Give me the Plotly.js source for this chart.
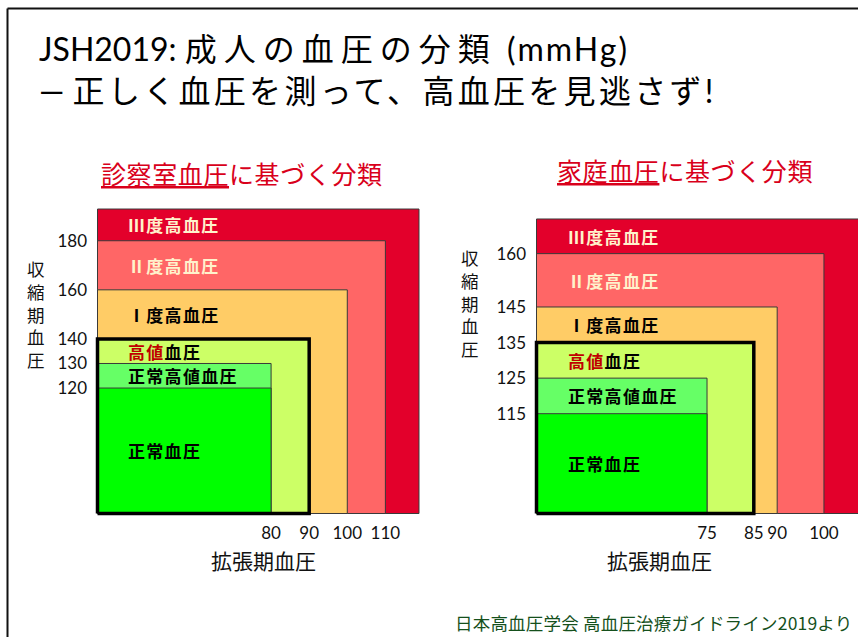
<!DOCTYPE html>
<html>
<head>
<meta charset="utf-8">
<script src="https://cdn.plot.ly/plotly-3.0.1.min.js"></script>
<style>
  html, body { margin: 0; padding: 0; background: #ffffff; }
  #chart { width: 858px; height: 637px; }
</style>
</head>
<body>
<div id="chart"></div>
<script>
// Blood pressure categories (JSH2019), from normal to grade III
const categories = ['正常血圧', '正常高値血圧', '高値血圧', 'Ⅰ度高血圧', 'Ⅱ度高血圧', 'Ⅲ度高血圧'];

// Upper limits of each category (mmHg); null = open-ended
const officeSbpUpper = [120, 130, 140, 160, 180, null];
const officeDbpUpper = [80, 80, 90, 100, 110, null];
const homeSbpUpper = [115, 125, 135, 145, 160, null];
const homeDbpUpper = [75, 75, 85, 90, 100, null];

// Tick labels on each axis
const officeSbpTicks = [120, 130, 140, 160, 180];
const officeDbpTicks = [80, 90, 100, 110];
const homeSbpTicks = [115, 125, 135, 145, 160];
const homeDbpTicks = [75, 85, 90, 100];

// Fill colour per category and colour of its label text
const bandColors = ['#00FF00', '#66FF66', '#CCFF66', '#FFCC66', '#FF6666', '#E3002B'];
const labelColors = ['#000000', '#000000', '#000000', '#000000', '#FFF2CC', '#FFF2CC'];

const W = 858, H = 637;
const px = v => v / W;
const py = v => 1 - v / H;

const CJK = '"Noto Sans CJK JP", "Noto Sans CJK SC", sans-serif';
const LAT = 'Lato, "Open Sans", sans-serif';

// Panel geometry: axis ranges and the corner / outer extent of the nested boxes
const panels = [
  {
    xa: 'x', ya: 'y',
    sbp: officeSbpUpper, dbp: officeDbpUpper,
    xTicks: officeDbpTicks, yTicks: officeSbpTicks,
    xDomain: [px(94), px(422)], yDomain: [py(517), py(206)],
    xRange: [33.52, 119.61], yRange: [67.47, 194.15],
    base: { x: 34.44, y: 68.89 }, outer: { x: 118.82, y: 192.92 },
    labelX: 42.0
  },
  {
    xa: 'x2', ya: 'y2',
    sbp: homeSbpUpper, dbp: homeDbpUpper,
    xTicks: homeDbpTicks, yTicks: homeSbpTicks,
    xDomain: [px(533), 1], yDomain: [py(517), py(216)],
    xRange: [37.79, 107.28], yRange: [85.96, 170.58],
    base: { x: 38.54, y: 86.94 }, outer: { x: 110, y: 169.74 },
    labelX: 44.8
  }
];

const HIGH_NORMAL = 2; // 高値血圧 gets the bold frame

const traces = [];
const annotations = [];

const spaced = (s, ls) => '<span style="letter-spacing:' + ls + 'px">' + s + '</span>';

panels.forEach(p => {
  const corner = i => ({
    x: p.dbp[i] === null ? p.outer.x : p.dbp[i],
    y: p.sbp[i] === null ? p.outer.y : p.sbp[i]
  });
  const box = c => ({
    x: [p.base.x, c.x, c.x, p.base.x, p.base.x],
    y: [p.base.y, p.base.y, c.y, c.y, p.base.y]
  });

  // largest box first so the smaller ones sit on top
  for (let i = categories.length - 1; i >= 0; i--) {
    const b = box(corner(i));
    traces.push({
      type: 'scatter', mode: 'lines', x: b.x, y: b.y,
      xaxis: p.xa, yaxis: p.ya,
      fill: 'toself', fillcolor: bandColors[i],
      line: { color: '#3a3a3a', width: 1 },
      hoverinfo: 'skip', showlegend: false, name: categories[i]
    });
  }

  const hb = box(corner(HIGH_NORMAL));
  traces.push({
    type: 'scatter', mode: 'lines', x: hb.x, y: hb.y,
    xaxis: p.xa, yaxis: p.ya,
    line: { color: '#000000', width: 3.5 },
    hoverinfo: 'skip', showlegend: false
  });

  // category names, centred vertically in each band
  categories.forEach((name, i) => {
    const lower = i === 0 ? p.base.y : p.sbp[i - 1];
    const upper = corner(i).y;
    const text = i === HIGH_NORMAL
      ? '<span style="color:#C00000">高値</span>血圧'
      : name;
    annotations.push({
      xref: p.xa, yref: p.ya, x: p.labelX, y: (lower + upper) / 2,
      xanchor: 'left', yanchor: 'middle', showarrow: false,
      text: '<b>' + spaced(text, 1.3) + '</b>',
      font: { family: CJK, size: 17, color: labelColors[i] }
    });
  });
});

// Panel headings
const headings = [
  { t: '<u>診察室血圧</u>に基づく分類', x: 242, y: 173 },
  { t: '<u>家庭血圧</u>に基づく分類', x: 685, y: 170 }
];
headings.forEach(h => annotations.push({
  xref: 'paper', yref: 'paper', x: px(h.x), y: py(h.y),
  xanchor: 'center', yanchor: 'middle', showarrow: false,
  text: spaced(h.t, 0.6), font: { family: CJK, size: 25, color: '#D9001B' }
}));

// Axis titles: diastolic along the bottom, systolic stacked vertically
[{ x: 263, y: 560 }, { x: 659, y: 560 }].forEach(t => annotations.push({
  xref: 'paper', yref: 'paper', x: px(t.x), y: py(t.y),
  xanchor: 'center', yanchor: 'middle', showarrow: false,
  text: '拡張期血圧', font: { family: CJK, size: 21, color: '#111111' }
}));
[{ x: 36, y: 314 }, { x: 470, y: 303 }].forEach(t => annotations.push({
  xref: 'paper', yref: 'paper', x: px(t.x), y: py(t.y),
  xanchor: 'center', yanchor: 'middle', showarrow: false,
  text: Array.from('収縮期血圧').join('<br>'),
  font: { family: CJK, size: 17.5, color: '#111111' }
}));

// Slide title (two lines)
const lat = (s, ls) => '<span style="font-family:Lato' + (ls ? ';letter-spacing:' + ls + 'px' : '') + '">' + s + '</span>';
annotations.push({
  xref: 'paper', yref: 'paper', x: px(37), y: py(68.5),
  xanchor: 'left', yanchor: 'middle', align: 'left', showarrow: false,
  text: lat('JSH2019: ') + spaced('成人の血圧の分類', 7) + lat(' (mmHg)', 2) +
        '<br>' +
        lat('— ') + spaced('正しく血圧を測って、高血圧を見逃さず', 3.3) + lat('!'),
  font: { family: CJK, size: 32, color: '#000000' }
});

// Source
annotations.push({
  xref: 'paper', yref: 'paper', x: px(653), y: py(622),
  xanchor: 'center', yanchor: 'middle', showarrow: false,
  text: spaced('日本高血圧学会 高血圧治療ガイドライン2019より', 0.2),
  font: { family: CJK, size: 17.5, color: '#15501C' }
});

const axisBase = {
  showgrid: false, zeroline: false, showline: false, ticks: '',
  tickmode: 'array', fixedrange: true,
  tickfont: { family: LAT, size: 17, color: '#111111' }
};

const layout = {
  width: W, height: H,
  margin: { l: 0, r: 0, t: 0, b: 0 },
  paper_bgcolor: '#ffffff', plot_bgcolor: 'rgba(0,0,0,0)',
  showlegend: false,
  annotations: annotations,
  shapes: [
    { type: 'line', xref: 'paper', yref: 'paper', x0: px(7.5), x1: px(7.5), y0: 0, y1: py(8.5),
      line: { color: '#111111', width: 2 } },
    { type: 'line', xref: 'paper', yref: 'paper', x0: px(7.5), x1: 1, y0: py(8.5), y1: py(8.5),
      line: { color: '#111111', width: 2 } }
  ]
};

panels.forEach((p, n) => {
  const sx = n === 0 ? '' : String(n + 1);
  layout['xaxis' + sx] = Object.assign({}, axisBase, {
    domain: p.xDomain, range: p.xRange, tickvals: p.xTicks,
    anchor: p.ya, ticklabelstandoff: 4
  });
  layout['yaxis' + sx] = Object.assign({}, axisBase, {
    domain: p.yDomain, range: p.yRange, tickvals: p.yTicks,
    anchor: p.xa, ticklabelstandoff: 6
  });
});

Plotly.newPlot('chart', traces, layout, { displayModeBar: false, staticPlot: true });
</script>
</body>
</html>
